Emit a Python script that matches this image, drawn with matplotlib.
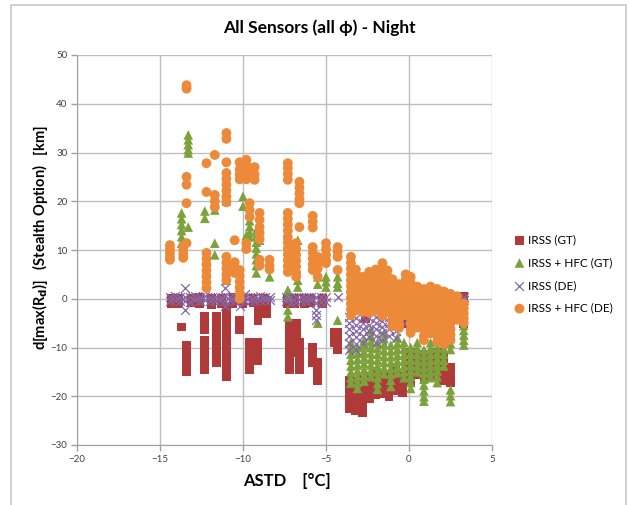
import numpy as np
import matplotlib
matplotlib.use('Agg')
import matplotlib.pyplot as plt
from matplotlib.patches import Rectangle

plt.rcParams['font.family'] = ['Lato', 'DejaVu Sans']

# Colunas de ASTD e valores de d[max(Rd)] para cada serie
gt_x = [-14.3, -13.7, -13.4, -12.3, -11.6, -11.0, -10.2, -9.6, -9.1, -8.6,
        -7.2, -6.8, -6.6, -5.8, -5.5, -4.5, -4.3,
        -3.6, -3.2, -2.8, -2.6, -2.4, -2.0, -1.6, -1.2, -0.8, -0.4, -0.2,
        0.1, 0.5, 0.9, 1.0, 1.3, 1.7, 2.1, 2.3, 2.5, 3.3,
        -13.9, -13.1, -12.6, -11.9, -11.3, -10.6, -10.0, -9.4, -8.8,
        -7.3, -6.9, -6.3, -5.9, -5.2]
gt_y = [[0.0, -1.0], [-5.8], [-9.5, -10.7, -11.9, -13.1, -14.3, -15.0],
        [-3.7, -5.0, -6.4, -8.5, -9.7, -10.9, -12.1, -13.3, -14.5],
        [-3.7, -5.0, -6.4, -7.6, -8.8, -10.0, -11.2, -12.4, -13.2],
        [-1.7, -2.9, -4.1, -5.3, -6.4, -7.8, -9.0, -10.2, -11.4, -12.6, -13.8, -15.0, -16.0],
        [-4.4, -5.4, -6.4], [-9.0, -10.2, -11.4, -12.6, -13.8, -14.6],
        [-0.9, -2.1, -3.3, -4.4, -9.0, -10.2, -11.4, -12.6], [-0.3, -1.5, -3.0],
        [-5.0, -6.2, -7.4, -8.6, -9.8, -11.0, -12.2, -13.4, -14.6],
        [-5.0, -6.2, -7.4, -8.6, -9.8, -11.0], [-9.0, -10.2, -11.4, -12.6, -13.8, -14.6],
        [-10.0, -11.2, -12.4, -13.0], [-13.0, -14.2, -15.4, -16.7],
        [-7.0, -8.0, -9.0], [-7.0, -8.2, -9.4, -10.5],
        [-16.7, -17.9, -19.1, -20.3, -21.5, -22.5], [-17.0, -18.2, -19.4, -20.6, -21.8, -23.0],
        [-16.5, -17.7, -18.9, -20.1, -21.3, -22.5, -23.4], [-2.0, -4.0],
        [-16.0, -17.2, -18.4, -19.6, -20.4], [-15.0, -16.2, -17.4, -18.6, -19.6],
        [-16.0, -17.2, -18.4, -19.4], [-15.5, -16.7, -17.9, -19.1, -20.0],
        [-14.0, -15.2, -16.4, -17.6, -18.8], [-16.0, -17.2, -18.4, -19.3], [-3.5, -5.0],
        [-11.0, -12.2, -13.4, -14.6, -15.8, -17.0], [-12.0, -13.2, -14.4, -15.6],
        [-11.5, -12.7, -13.9, -15.1, -16.3], [-2.0, -4.0], [-12.0, -13.2, -14.4, -15.6],
        [-11.0, -12.2, -13.4, -14.6, -15.8], [-12.0, -13.2, -14.4, -15.6, -16.8],
        [-1.0, -3.0, -5.0], [-14.0, -15.2, -16.4, -17.3], [0.4, -0.8, -2.0, -3.2, -4.4, -5.0],
        [0.0, -1.0], [0.0, -0.8], [0.2, -1.0], [0.0, -1.2], [0.0, -0.9], [0.2, -1.0],
        [0.0, -1.0], [0.1, -0.8], [0.0, -1.0],
        [0.0, -1.0], [0.1, -0.9], [0.0, -1.0], [0.0, -0.8], [0.1, -1.0]]

hfc_gt_x = [-13.7, -13.3, -12.3, -11.7, -11.0, -10.0, -9.8, -9.6, -9.2, -9.0, -8.4,
            -7.3, -6.7, -5.5, -5.0, -4.3,
            -3.5, -3.1, -2.7, -2.3, -1.9, -1.5, -1.1, -0.7, -0.3,
            0.1, 0.5, 0.9, 1.3, 1.7, 2.1, 2.5, 3.3]
hfc_gt_y = [[17.6, 16.4, 15.2, 14.0, 12.7, 11.4], [33.6, 32.6, 31.6, 30.6, 29.9, 14.7],
            [18.0, 16.5], [21.0, 19.6, 18.2, 11.4, 9.0], [22.0, 21.0, 20.0, 3.8],
            [21.0, 19.0], [13.0, 11.8, 10.6], [16.0, 14.8, 13.6, 12.7],
            [14.0, 12.8, 11.6, 10.4, 9.2, 8.0, 6.8, 5.3], [14.0, 12.0], [4.5],
            [14.7, 13.0, 1.8, 0.4, -2.3, -3.7], [12.0, 3.8, 2.4], [4.5, 3.0, -5.0],
            [4.5, 3.5, 2.4], [4.5, 3.2, 2.4, -4.4],
            [-9.0, -10.2, -11.4, -12.6, -13.8, -15.0, -16.2, -17.3],
            [-10.0, -11.2, -12.4, -13.6, -14.8, -16.0, -17.2, -18.4],
            [-8.5, -9.7, -10.9, -12.1, -13.3, -14.5, -15.7, -16.9],
            [-6.4, -7.6, -8.8, -10.0, -11.2, -12.4, -13.6, -14.8, -16.0],
            [-9.0, -10.2, -11.4, -12.6, -13.8, -15.0, -16.2, -17.4, -18.6],
            [-7.0, -8.2, -9.4, -10.6, -11.8, -13.0, -14.2, -15.4],
            [-9.5, -10.7, -11.9, -13.1, -14.3, -15.5, -16.7, -18.0],
            [-8.0, -9.2, -10.4, -11.6, -12.8, -14.0, -15.2],
            [-9.0, -10.2, -11.4, -12.6, -13.8, -15.0, -16.2],
            [-10.0, -11.2, -12.4, -13.6, -14.8, -16.0, -17.2, -18.4],
            [-9.0, -10.2, -11.4, -12.6, -13.8, -15.0],
            [-10.5, -11.7, -12.9, -14.1, -15.3, -16.5, -17.7, -18.9, -20.1, -21.0],
            [-9.0, -10.2, -11.4, -12.6, -13.8, -15.0, -16.2],
            [-10.0, -11.2, -12.4, -13.6, -14.8, -16.0, -17.2],
            [-9.0, -10.2, -11.4, -12.6, -13.8],
            [-8.0, -9.2, -10.4, -18.7, -19.9, -21.1],
            [-5.5, -6.5, -7.5, -8.5, -9.5]]

de_x = [-14.4, -14.1, -13.8, -13.5, -13.2, -12.9, -12.6, -12.3, -12.0, -11.7, -11.4,
        -11.1, -10.8, -10.5, -10.2, -9.9, -9.6, -9.3, -9.0, -8.7, -8.4,
        -7.4, -7.1, -6.8, -6.5, -6.2, -5.9, -5.6, -5.3, -5.0, -4.3,
        -3.6, -3.2, -2.8, -2.4, -2.0, -1.6, -1.2, -0.8, -0.3, 0.3, 0.8, 1.3, 1.8, 2.3, 3.3]
de_y = [[0.4, -0.4], [0.6, -0.2], [0.3, -0.5], [2.2, 0.4, -0.5, -2.3], [0.3, -0.6],
        [0.5, -0.3], [0.4, -0.4], [0.5, -0.3], [0.3, -0.5], [0.3, -0.5], [0.4, -0.2],
        [2.2, 0.5, -0.4, -1.5], [0.4, -0.3], [0.3, -0.5], [0.3, -0.5, -1.5],
        [1.0, 0.3, -0.4], [0.4, -0.4], [0.4, -0.4], [0.5, -0.2], [0.4, -0.3], [0.4, -0.3],
        [0.4, -0.5], [0.3, -0.9], [0.4, -0.6], [0.3, -0.5], [0.3, -0.5], [0.4, -0.2],
        [0.4, -0.9, -2.3, -3.3, -4.4], [0.3, -0.6], [0.3, -0.6], [0.4],
        [-3.7, -5.0, -6.3, -7.6, -9.0, -10.5], [-4.0, -5.3, -6.6, -7.9, -9.2, -10.5],
        [-3.7, -5.0, -6.3, -7.6, -9.0], [-4.0, -5.3, -6.6, -7.9],
        [-3.7, -5.0, -6.3, -7.6, -9.0], [-4.5, -5.8, -7.1, -8.4], [-3.7, -5.0, -6.3, -7.6],
        [-4.0, -5.3, -6.6, -8.0], [-1.0, -3.0, -5.0], [0.2, -1.5, -3.5], [0.5, -1.0, -2.5],
        [-0.5, -2.0, -4.0], [0.0, -2.0, -7.5], [0.5, -1.5, -3.0], [0.4, -0.3]]

hfc_de_x = [-14.4, -13.6, -13.4, -12.2, -11.7, -11.0, -10.5, -10.2, -9.8, -9.6, -9.3,
            -9.0, -8.4, -7.3, -6.8, -6.6, -5.8, -5.5, -5.0, -4.3,
            -3.5, -3.2, -2.8, -2.4, -2.0, -1.6, -1.3, -1.0, -0.6, -0.2,
            0.1, 0.5, 0.9, 1.3, 1.7, 2.1, 2.5, 2.9, 3.3]
hfc_de_y = [[11.0, 10.2, 9.4, 8.6, 8.0], [10.8, 10.0, 9.2, 8.4],
            [43.8, 43.1, 25.0, 23.4, 19.6, 11.4],
            [27.8, 21.9, 9.4, 8.2, 7.0, 5.8, 4.6, 3.4, 2.2], [29.5, 21.3, 20.0, 18.8],
            [34.0, 32.8, 28.0, 25.8, 24.6, 23.4, 22.2, 21.0, 19.8, 8.6, 7.4, 6.2, 5.0, 3.8],
            [12.0, 7.5, 6.4, 5.3], [28.0, 26.5, 25.5, 24.5, 5.9, 4.7, 3.5, 2.3, 1.1, 0.0],
            [28.5, 27.5, 26.5, 25.5, 24.5, 11.4, 10.2], [19.6, 18.2, 16.8], [27.0, 25.5, 24.4],
            [17.6, 16.2, 14.7, 13.5, 12.2, 8.0, 6.8], [8.0, 6.8, 6.0],
            [27.8, 26.8, 25.6, 24.4, 17.6, 16.4, 15.2, 14.0, 12.7, 11.5, 10.3, 9.1, 7.9, 6.7, 5.5],
            [11.4, 10.2, 9.0, 7.8, 6.6, 5.4, 4.5], [24.0, 22.8, 21.6, 20.4, 19.6, 14.7],
            [17.0, 15.8, 14.6, 10.6, 9.4, 8.2, 7.0, 5.9], [8.6, 7.4, 6.2, 4.5],
            [11.4, 10.2, 9.0, 7.8, 7.3], [10.6, 9.6, 8.6, 5.9],
            [8.6, 7.4, 6.2, 5.0, 3.8, 2.6, 1.4, 0.2, -1.0, -2.2, -3.4],
            [6.0, 4.8, 3.6, 2.4, 1.2, 0.0, -1.2, -2.4],
            [4.5, 3.3, 2.1, 0.9, -0.3, -1.5, -2.7],
            [5.5, 4.3, 3.1, 1.9, 0.7, -0.5, -1.7, -2.9],
            [6.0, 4.8, 3.6, 2.4, 1.2, 0.0, -1.2, -2.4],
            [7.3, 6.1, 4.9, 3.7, 2.5, 1.3, 0.1, -1.1, -2.3, -3.5],
            [5.8, 4.6, 3.4, 2.2, 1.0, -0.2, -1.4, -2.6],
            [4.0, 2.8, 1.6, 0.4, -0.8, -2.0, -3.2, -4.4, -5.6],
            [3.0, 1.8, 0.6, -0.6, -1.8, -3.0, -4.2, -5.4, -6.0],
            [5.0, 3.8, 2.6, 1.4, 0.2, -1.0, -2.2, -3.4],
            [4.5, 3.3, 2.1, 0.9, -0.3, -1.5, -2.7, -3.9, -5.1, -6.3, -7.0],
            [2.5, 1.3, 0.1, -1.1, -2.3, -3.5, -4.7, -5.9],
            [2.0, 0.8, -0.4, -1.6, -2.8, -4.0, -5.2, -6.4, -7.6, -8.5],
            [2.5, 1.3, 0.1, -1.1, -2.3, -3.5, -4.7, -5.9, -7.1],
            [2.0, 0.8, -0.4, -1.6, -2.8, -4.0, -5.2, -6.4, -7.6, -8.8],
            [1.5, 0.3, -0.9, -2.1, -3.3, -4.5, -5.7, -6.9, -8.1, -9.3],
            [1.0, -0.2, -1.4, -2.6, -3.8, -5.0, -6.2, -7.4, -8.5],
            [0.5, -0.7, -1.9, -3.1, -4.3],
            [-1.0, -2.0, -3.0, -4.0, -5.0]]

labels = ['IRSS (GT)', 'IRSS + HFC (GT)', 'IRSS (DE)', 'IRSS + HFC (DE)']
cores = ['#B0393A', '#7DA23C', '#8466A8', '#EC8A3A']


def expande(xs, ys):
    # repete cada ASTD pelo numero de pontos da coluna
    x = np.concatenate([[a] * len(b) for a, b in zip(xs, ys)])
    y = np.concatenate(ys)
    return x, y


fig = plt.figure(figsize=(6.29, 5.05), dpi=100)
ax = fig.add_axes([77 / 629, 60 / 505, 415 / 629, 390 / 505])

x, y = expande(gt_x, gt_y)
ax.scatter(x, y, marker='s', s=40, color=cores[0], edgecolors='none', label=labels[0], zorder=3)
x, y = expande(hfc_gt_x, hfc_gt_y)
ax.scatter(x, y, marker='^', s=48, color=cores[1], edgecolors='none', label=labels[1], zorder=3)
x, y = expande(de_x, de_y)
ax.scatter(x, y, marker='x', s=40, color=cores[2], linewidths=0.9, label=labels[2], zorder=3)
x, y = expande(hfc_de_x, hfc_de_y)
ax.scatter(x, y, marker='o', s=50, color=cores[3], edgecolors='none', label=labels[3], zorder=3)

ax.set_xlim(-20, 5)
ax.set_ylim(-30, 50)
ax.set_xticks(range(-20, 6, 5))
ax.set_yticks(range(-30, 51, 10))
ax.grid(True, color='#BEBEBE', linewidth=1)
ax.set_axisbelow(True)
for lado in ['top', 'right']:
    ax.spines[lado].set_visible(False)
for lado in ['left', 'bottom']:
    ax.spines[lado].set_color('#A0A0A0')
ax.tick_params(direction='out', length=4, width=1, color='#A0A0A0',
               labelsize=7, labelcolor='#404040', pad=3)

fig.text(319 / 629, 1 - 28 / 505, 'All Sensors (all \u03d5) - Night', ha='center', va='center',
         fontsize=12.5, fontweight='bold')
fig.text(287 / 629, 1 - 481 / 505, 'ASTD    [\u00b0C]', ha='center', va='center',
         fontsize=12, fontweight='bold')
fig.text(40 / 629, 1 - 237 / 505, r'd[max(R$_\mathbf{d}$)]   (Stealth Option)   [km]',
         ha='center', va='center', rotation=90, fontsize=10.5, fontweight='bold')

leg = fig.legend(loc='center left', bbox_to_anchor=(510 / 629, 1 - 274 / 505), frameon=False,
                 fontsize=8.5, handlelength=0.8, handletextpad=0.3, labelspacing=1.0,
                 borderaxespad=0)

# moldura do grafico
fig.patches.append(Rectangle((11 / 629, -0.05), 615 / 629, 1.05 - 5 / 505,
                             transform=fig.transFigure, fill=False, edgecolor='#C8C8C8',
                             linewidth=1.2, clip_on=False))

fig.savefig('out.png', dpi=100)
